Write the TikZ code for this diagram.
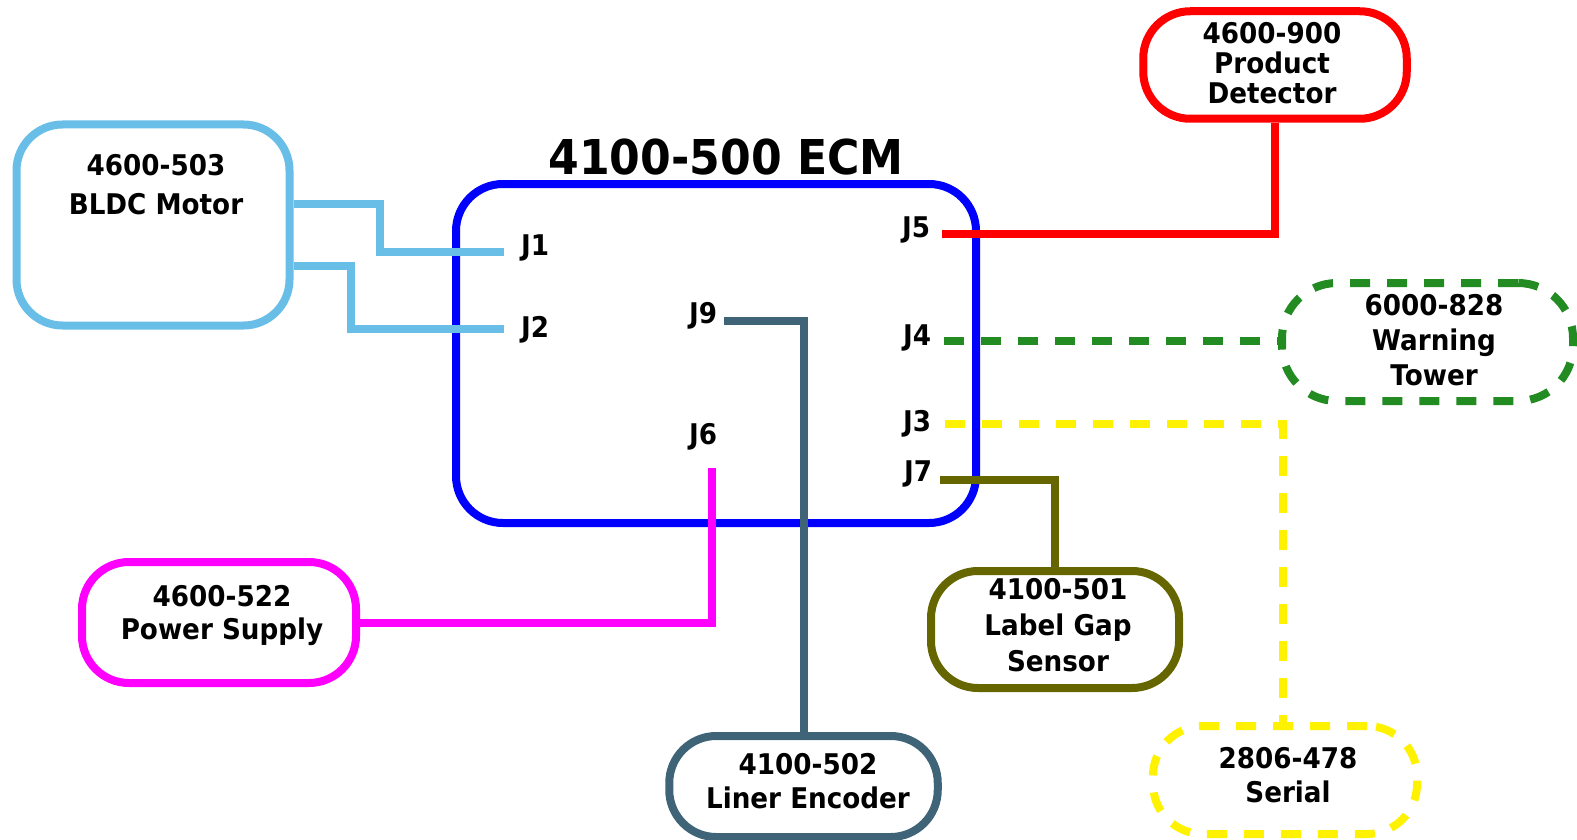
\documentclass[tikz,border=0pt]{standalone}
\usepackage{fontspec}
\setmainfont[FakeStretch=0.92]{DejaVu Sans}
\usepackage{tikz}
\usetikzlibrary{calc}
\definecolor{motorblue}{RGB}{104,190,230}
\definecolor{towergreen}{RGB}{34,139,34}
\definecolor{gapolive}{RGB}{102,102,0}
\definecolor{encsteel}{RGB}{63,100,120}
\definecolor{psumagenta}{RGB}{255,0,255}
\newcommand{\partfont}{\fontsize{28.5}{34}\selectfont\bfseries}
\tikzset{partbox/.style={draw=#1, line width=8, rounded corners=47, inner sep=0pt},
dashbox/.style={partbox=#1, dash pattern=on 20 off 17},
parttext/.style={font=\partfont, align=center, inner sep=0pt},
wire/.style={draw=#1, line width=8},
dashwire/.style={wire=#1, dash pattern=on 20 off 17},
pin/.style={font=\partfont, inner sep=0pt}}

\begin{document}
\begin{tikzpicture}[x=1pt, y=-1pt]
\useasboundingbox (0,0) rectangle (1577,840);
% boxes
\node[partbox=blue, minimum width=520, minimum height=339] (ecm) at (716,353.5) {};
\node[font=\fontsize{48}{56}\selectfont\bfseries] (ecmtitle) at (726,157) {4100-500 ECM};
\node[partbox=motorblue, rounded corners=46, minimum width=273, minimum height=201] (motor) at (153,225) {};
\node[parttext, font=\fontsize{28.5}{39}\selectfont\bfseries] (motortext) at (156,184.5) {4600-503\\BLDC Motor};
\node[partbox=red, minimum width=263.5, minimum height=107.5] (detector) at (1275,65) {};
\node[parttext, font=\fontsize{28.5}{30.3}\selectfont\bfseries] (detectortext) at (1272,63.3) {4600-900\\Product\\Detector};
\node[dashbox=towergreen, rounded corners=55, minimum width=291, minimum height=118] (tower) at (1427.5,342) {};
\node[parttext, font=\fontsize{28.5}{35}\selectfont\bfseries] (towertext) at (1434,340.5) {6000-828\\Warning\\Tower};
\node[dashbox=yellow, rounded corners=50, minimum width=264, minimum height=108] (serial) at (1285,780) {};
\node[parttext] (serialtext) at (1288,775.5) {2806-478\\Serial};
\node[partbox=gapolive, minimum width=248, minimum height=117] (labelgap) at (1055,629.5) {};
\node[parttext, font=\fontsize{28.5}{36}\selectfont\bfseries] (labelgaptext) at (1058,625.5) {4100-501\\Label Gap\\Sensor};
\node[partbox=encsteel, minimum width=268.5, minimum height=101] (encoder) at (803.5,786.5) {};
\node[parttext] (encodertext) at (808,781.5) {4100-502\\Liner Encoder};
\node[partbox=psumagenta, minimum width=274, minimum height=121] (power) at (219,622.5) {};
\node[parttext, font=\fontsize{28.5}{33.5}\selectfont\bfseries] (powertext) at (222,615.6) {4600-522\\Power Supply};
% connector labels
\node[pin] (J1) at (535,248) {J1};
\node[pin] (J2) at (535,330) {J2};
\node[pin] (J5) at (916,230) {J5};
\node[pin] (J4) at (917,338) {J4};
\node[pin] (J3) at (917,424) {J3};
\node[pin] (J7) at (918,474) {J7};
\node[pin] (J9) at (703,316) {J9};
\node[pin] (J6) at (703,437) {J6};
\coordinate (p1) at (504,252);
\coordinate (p2) at (504,329);
\coordinate (p5) at (942,234);
\coordinate (p4) at (944,341);
\coordinate (p3) at (945,424);
\coordinate (p7) at (940,480);
\coordinate (p9) at (724,321);
\coordinate (p6) at (712,468);
% wires
\draw[wire=motorblue] ([yshift=21.3]motor.east) -| (380,252) -- (p1);
\draw[wire=motorblue] ([yshift=-41]motor.east) -| (351,329) -- (p2);
\draw[wire=red] (p5) -| (detector.south);
\draw[dashwire=towergreen] (p4) -- (p4 -| tower.west);
\draw[dashwire=yellow] (p3) -| ([xshift=-2]serial.north);
\draw[wire=gapolive] (p7) -| (labelgap.north);
\draw[wire=encsteel] (p9) -| (encoder.north);
\draw[wire=psumagenta] (p6) |- (power.east);
\end{tikzpicture}
\end{document}
